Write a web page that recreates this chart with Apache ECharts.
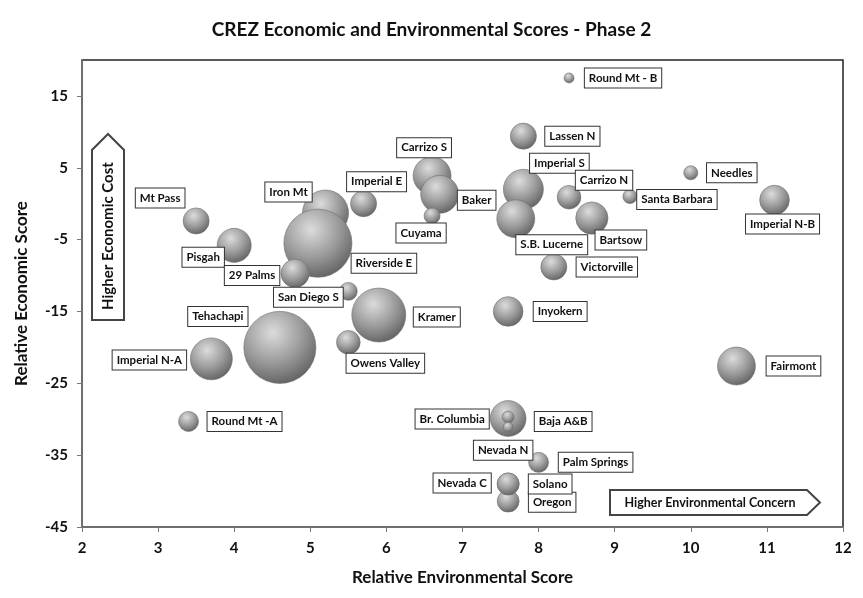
<!DOCTYPE html>
<html>
<head>
<meta charset="utf-8">
<script src="https://cdn.jsdelivr.net/npm/echarts@6/dist/echarts.min.js"></script>
<style>
  html, body { margin: 0; padding: 0; background: #fff; }
  #chart { width: 863px; height: 598px; }
</style>
</head>
<body>
<div id="chart"></div>
<script>
// CREZ zones: environmental score (x), economic score (y), bubble size (relative)
const zones = [
  'Round Mt - B', 'Lassen N', 'Carrizo S', 'Baker', 'Cuyama', 'Imperial E',
  'Imperial S', 'S.B. Lucerne', 'Carrizo N', 'Bartsow', 'Victorville', 'Santa Barbara',
  'Needles', 'Imperial N-B', 'Mt Pass', 'Pisgah', 'Iron Mt', 'Riverside E',
  '29 Palms', 'San Diego S', 'Kramer', 'Tehachapi', 'Imperial N-A', 'Owens Valley',
  'Round Mt -A', 'Inyokern', 'Fairmont', 'Baja A&B', 'Br. Columbia', 'Nevada N',
  'Palm Springs', 'Oregon', 'Nevada C', 'Solano'
]
const envScore = [
  8.4, 7.8, 6.6, 6.7, 6.6, 5.7,
  7.8, 7.7, 8.4, 8.7, 8.2, 9.2,
  10.0, 11.1, 3.5, 4.0, 5.2, 5.1,
  4.8, 5.5, 5.9, 4.6, 3.7, 5.5,
  3.4, 7.6, 10.6, 7.6, 7.6, 7.6,
  8.0, 7.6, 7.6, 7.6
]
const econScore = [
  17.5, 9.4, 3.9, 1.3, -1.7, 0,
  2.0, -2.1, 0.9, -2.0, -8.8, 1.0,
  4.3, 0.5, -2.4, -5.8, -1.3, -5.5,
  -9.7, -12.2, -15.5, -20.0, -21.6, -19.3,
  -30.3, -15.0, -22.6, -29.9, -29.7, -31.1,
  -36.0, -41.4, -39.0, -39.0
]
const bubbleSize = [
  2.5, 17, 36, 36, 6.4, 17,
  40, 36, 14, 26, 17, 5,
  5, 22, 17, 29, 53, 116,
  20, 8, 73, 130, 44, 14,
  10, 22, 36, 32, 3.6, 2.5,
  10, 12, 12, 12
]
const yTicks = [-45, -35, -25, -15, -5, 5, 15]

// label placement (offset of the label box centre from the bubble centre)
const labelOffset = {
  'Round Mt - B': [54, 0], 'Lassen N': [49, 0], 'Carrizo S': [-8, -28], 'Baker': [37, 6],
  'Cuyama': [-11, 17], 'Imperial E': [13, -22], 'Imperial S': [36, -26], 'Carrizo N': [35, -17],
  'S.B. Lucerne': [36, 26], 'Bartsow': [29, 22], 'Victorville': [53, 0], 'Santa Barbara': [47, 3],
  'Needles': [41, 0], 'Imperial N-B': [8, 24], 'Mt Pass': [-36, -23], 'Pisgah': [-31, 12],
  'Iron Mt': [-37, -21], 'Riverside E': [66, 20], '29 Palms': [-43, 2], 'San Diego S': [-40, 6],
  'Kramer': [58, 2], 'Tehachapi': [-62, -31], 'Imperial N-A': [-62, 1], 'Owens Valley': [37, 21],
  'Round Mt -A': [56, 0], 'Inyokern': [52, 0], 'Fairmont': [57, 0], 'Baja A&B': [55, 3],
  'Br. Columbia': [-56, 2], 'Nevada N': [-5, 23], 'Palm Springs': [57, 0], 'Nevada C': [-46, -1],
  'Solano': [42, 0], 'Oregon': [44, 1]
}

const FONT = 'Lato, "Open Sans", sans-serif'

const points = zones.map((name, i) => ({
  name,
  value: [envScore[i], econScore[i], bubbleSize[i]],
  label: { offset: labelOffset[name] }
}))

const chart = echarts.init(document.getElementById('chart'))
chart.setOption({
  backgroundColor: '#fff',
  animation: false,
  title: {
    text: 'CREZ Economic and Environmental Scores - Phase 2',
    left: 'center', top: 15,
    textStyle: { fontFamily: FONT, fontSize: 19, fontWeight: 'bold', color: '#111' }
  },
  grid: {
    left: 82, right: 20, top: 60, bottom: 71,
    show: true, borderColor: '#222', borderWidth: 1.5, backgroundColor: '#fff'
  },
  xAxis: {
    type: 'value', min: 2, max: 12, interval: 1,
    name: 'Relative Environmental Score', nameLocation: 'middle', nameGap: 42,
    nameTextStyle: { fontFamily: FONT, fontSize: 17, fontWeight: 'bold', color: '#111' },
    axisLine: { onZero: false, lineStyle: { color: '#777', width: 1.5 } },
    axisTick: { show: true, length: 5, lineStyle: { color: '#777' } },
    axisLabel: { fontFamily: FONT, fontSize: 15, fontWeight: 'bold', color: '#111', margin: 14 },
    splitLine: { show: false }
  },
  yAxis: {
    type: 'value', min: -45, max: 20, interval: 10,
    name: 'Relative Economic Score', nameLocation: 'middle', nameGap: 52,
    nameTextStyle: { fontFamily: FONT, fontSize: 17, fontWeight: 'bold', color: '#111' },
    axisLine: { show: true, onZero: false, lineStyle: { color: '#777', width: 1.5 } },
    axisTick: { show: true, length: 5, lineStyle: { color: '#777' } },
    axisLabel: {
      fontFamily: FONT, fontSize: 15, fontWeight: 'bold', color: '#111', margin: 14,
      showMaxLabel: false,
      formatter: v => (yTicks.includes(v) ? String(v) : '')
    },
    splitLine: { show: false }
  },
  graphic: [
    {
      type: 'polygon', z: 5,
      shape: { points: [[92, 320], [92, 150], [108, 134], [124, 150], [124, 320]] },
      style: { fill: '#fff', stroke: '#444', lineWidth: 2 }
    },
    {
      type: 'text', z: 6, x: 108, y: 236, rotation: Math.PI / 2,
      style: {
        text: 'Higher Economic Cost', fill: '#111',
        font: 'bold 15px ' + FONT, align: 'center', verticalAlign: 'middle'
      }
    },
    {
      type: 'polygon', z: 5,
      shape: { points: [[610, 490], [807, 490], [820, 502.5], [807, 515], [610, 515]] },
      style: { fill: '#fff', stroke: '#444', lineWidth: 2 }
    },
    {
      type: 'text', z: 6, x: 710, y: 503,
      style: {
        text: 'Higher Environmental Concern', fill: '#111',
        font: 'bold 12.5px ' + FONT, align: 'center', verticalAlign: 'middle'
      }
    }
  ],
  series: [{
    type: 'scatter',
    data: points,
    symbolSize: v => 2 * Math.sqrt(v[2] * 10),
    itemStyle: {
      color: new echarts.graphic.RadialGradient(0.4, 0.3, 0.75, [
        { offset: 0, color: '#dcdcdc' },
        { offset: 0.55, color: '#9a9a9a' },
        { offset: 1, color: '#5e5e5e' }
      ]),
      borderColor: '#707070', borderWidth: 0.6, opacity: 1
    },
    label: {
      show: true, position: 'inside',
      formatter: p => p.name,
      fontFamily: FONT, fontSize: 11.5, fontWeight: 'bold', color: '#111',
      backgroundColor: '#fff', borderColor: '#333', borderWidth: 1,
      padding: [4, 4, 3, 4]
    },
    emphasis: { disabled: true }
  }]
})
</script>
</body>
</html>
